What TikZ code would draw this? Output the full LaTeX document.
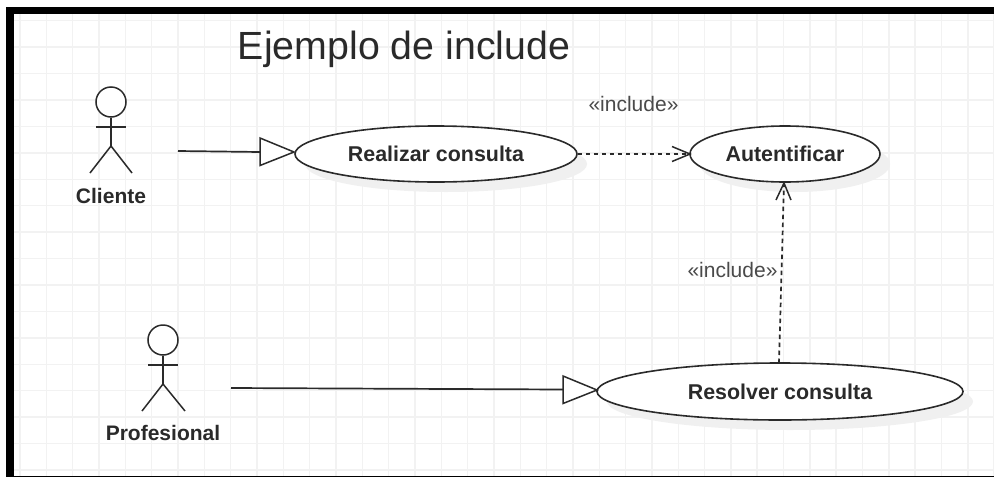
\documentclass[tikz,border=0pt]{standalone}
\usepackage{fontspec}
\usetikzlibrary{shapes.geometric}
\setmainfont{Liberation Sans}
\definecolor{gridc}{HTML}{F2F2F2}
\definecolor{shad}{HTML}{F0F0F0}
\definecolor{ink}{HTML}{2A2A2A}
\tikzset{
  usecase/.style={draw=ink,fill=white,ellipse,line width=1.6pt,inner sep=0pt,font=\fontsize{21.4}{23}\selectfont\bfseries,text=ink},
  actorlabel/.style={font=\fontsize{21}{23}\selectfont\bfseries,text=ink},
  stereo/.style={font=\fontsize{21}{23}\selectfont,text=ink!85},
  stick/.style={draw=ink,line width=1.5pt},
  actorhead/.style={draw=ink,fill=white,circle,line width=1.5pt,minimum size=30pt,inner sep=0pt},
  assoc/.style={draw=ink,line width=1.7pt},
  hollowtip/.style={draw=ink,fill=white,line width=1.5pt,line join=miter},
  incl/.style={draw=ink,line width=1.7pt,dash pattern=on 4.5pt off 3.5pt},
  openhead/.style={draw=ink,line width=1.5pt}
}
\begin{document}
\begin{tikzpicture}[x=1pt,y=-1pt]
\useasboundingbox (0,0) rectangle (994,477);
\fill[white] (0,0) rectangle (994,477);
\begin{scope}
\clip (14,14) rectangle (994,475);
\foreach \i in {0,...,37} \draw[gridc,line width=1.5pt] ({20+26.33*\i},14) -- ({20+26.33*\i},477);
\foreach \i in {0,...,17} \draw[gridc,line width=1.5pt] (14,{20.7+26.43*\i}) -- (994,{20.7+26.43*\i});
\end{scope}
\fill[black] (6,6.5) rectangle (994,14);
\fill[black] (6,6.5) rectangle (14,477);
\fill[black] (6,475.5) rectangle (994,477);
% title
\node[font=\fontsize{39.3}{42}\selectfont,text=ink] (title) at (404,49) {Ejemplo de include};
% shadows
\fill[shad] (446,164) ellipse [x radius=141,y radius=28];
\fill[shad] (795,164) ellipse [x radius=95,y radius=28];
\fill[shad] (790,401.5) ellipse [x radius=183,y radius=28.5];
% use cases
\node[usecase,minimum width=282pt,minimum height=56pt] (realizar) at (436,154) {Realizar consulta};
\node[usecase,minimum width=190pt,minimum height=56pt] (auten) at (785,154) {Autentificar};
\node[usecase,minimum width=366pt,minimum height=57pt] (resolver) at (780,391.5) {Resolver consulta};
% actor 1
\node[actorhead] (head1) at (111,102) {};
\coordinate (hip1) at (111,146);
\coordinate (al1) at (96,127);
\coordinate (ar1) at (126,127);
\coordinate (ll1) at (90,173);
\coordinate (rl1) at (132,173);
\draw[stick] (head1.south) -- (hip1);
\draw[stick] (al1) -- (ar1);
\draw[stick] (ll1) -- (hip1) -- (rl1);
\node[actorlabel] (cliente) at (111,196) {Cliente};
% actor 2
\node[actorhead] (head2) at (163,340) {};
\coordinate (hip2) at (163,384);
\coordinate (al2) at (148,365);
\coordinate (ar2) at (178,365);
\coordinate (ll2) at (142,411);
\coordinate (rl2) at (185,411);
\draw[stick] (head2.south) -- (hip2);
\draw[stick] (al2) -- (ar2);
\draw[stick] (ll2) -- (hip2) -- (rl2);
\node[actorlabel] (prof) at (163,433) {Profesional};
% associations
\coordinate (s1) at (178,151);
\coordinate (b1) at (260,152);
\coordinate (s2) at (231,388);
\coordinate (b2) at (563,389.5);
\draw[assoc] (s1) -- (b1);
\draw[hollowtip] (260,138) -- (294,152) -- (260,165.5) -- cycle;
\draw[assoc] (s2) -- (b2);
\draw[hollowtip] (563,376) -- (597,390) -- (563,403.5) -- cycle;
% includes
\coordinate (tipa) at (690,154);
\coordinate (tipb) at (784,183);
\coordinate (srcb) at (779,363);
\draw[incl] (realizar.east) -- (tipa);
\draw[openhead] (672,146.5) -- (tipa) -- (672,161.5);
\draw[incl] (srcb) -- (tipb);
\draw[openhead] (776,200) -- (tipb) -- (791,200);
\node[stereo] (inc1) at (633.5,104) {«include»};
\node[stereo] (inc2) at (732.5,269.5) {«include»};
\end{tikzpicture}
\end{document}
